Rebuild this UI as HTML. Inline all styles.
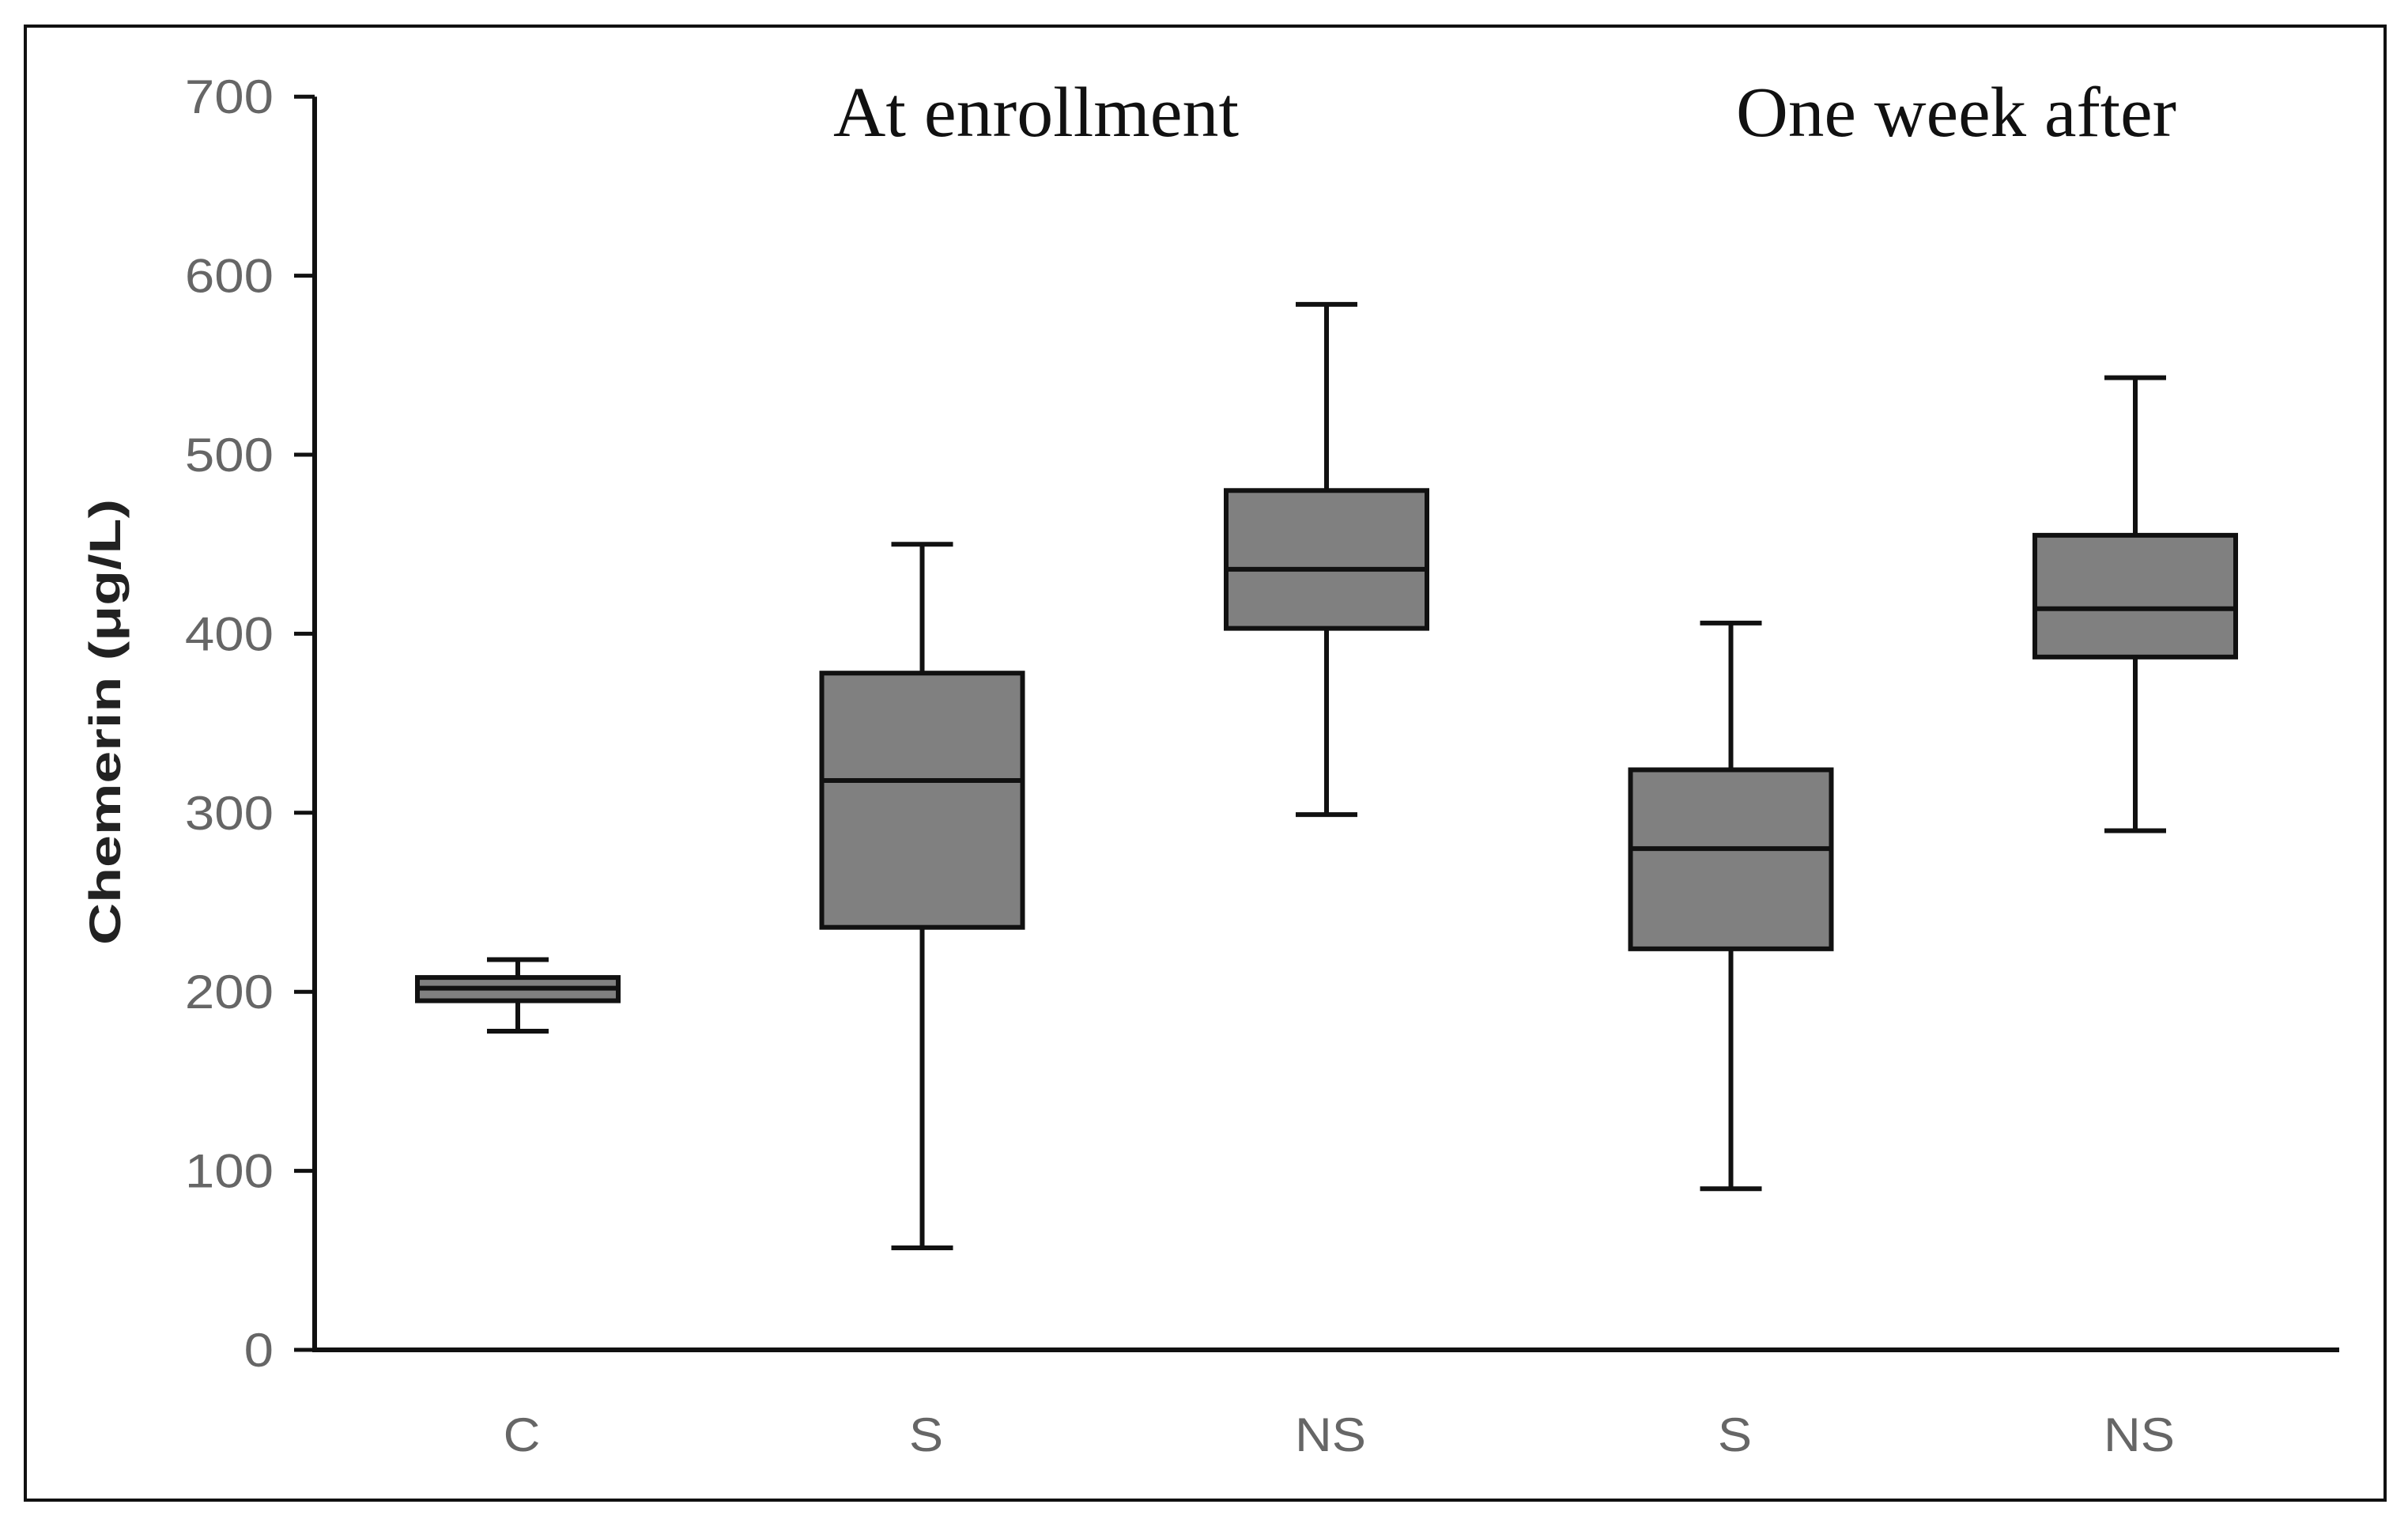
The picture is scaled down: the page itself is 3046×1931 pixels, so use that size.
<!DOCTYPE html>
<html><head><meta charset="utf-8"><style>
html,body{margin:0;padding:0;background:#fff;}
svg{display:block;}
</style></head><body>
<svg id="chart" width="3046" height="1931" viewBox="0 0 3046 1931" xmlns="http://www.w3.org/2000/svg">
<rect x="32" y="33" width="2985" height="1864" fill="none" stroke="#111" stroke-width="4"/>
<g id="axes"></g>
<g id="boxes"></g>
<text x="1054" y="172" textLength="513" lengthAdjust="spacingAndGlyphs" font-family="Liberation Serif, serif" font-size="90" fill="#111">At enrollment</text>
<text x="2196" y="172" textLength="557" lengthAdjust="spacingAndGlyphs" font-family="Liberation Serif, serif" font-size="90" fill="#111">One week after</text>
<text transform="translate(152,913) rotate(-90)" text-anchor="middle" textLength="564" lengthAdjust="spacingAndGlyphs" font-family="Liberation Sans, sans-serif" font-weight="bold" font-size="56" fill="#222">Chemerin (μg/L)</text>
</svg>
<script>
const categories = ["C","S","NS","S","NS"];
const whiskerHigh = [218,450,584,406,543];
const q3 = [208,378,480,324,455];
const median = [202,318,436,280,414];
const q1 = [195,236,403,224,387];
const whiskerLow = [178,57,299,90,290];
const yTicks = [0,100,200,300,400,500,600,700];

const NS = "http://www.w3.org/2000/svg";
const y0 = 1707, pxPer = 226.4/100;
function yScale(v){ return y0 - v*pxPer; }
function xScale(i){ return 655 + i*511.5; }
function mk(tag, attrs, parent){ const e=document.createElementNS(NS,tag); for(const k in attrs) e.setAttribute(k,attrs[k]); parent.appendChild(e); return e; }
const axes=document.getElementById('axes'), boxes=document.getElementById('boxes');

let yAxis = mk('line',{x1:398,y1:yScale(700),x2:398,y2:y0+3,stroke:'#111','stroke-width':6},axes);


let xAxis = mk('line',{x1:395,y1:y0,x2:2959,y2:y0,stroke:'#111','stroke-width':6},axes);



yTicks.forEach(t=>{
  const tk = mk('line',{x1:372,y1:yScale(t),x2:398,y2:yScale(t),stroke:'#111','stroke-width':5},axes);
  
  
  const lb = mk('text',{transform:'translate(346,'+(yScale(t)+21)+') scale(1.12,1)','text-anchor':'end','font-family':'Liberation Sans, sans-serif','font-size':60,fill:'#666'},axes);
  lb.textContent=t;
  
  
});

const bw=254, cw=78;
categories.forEach((c,i)=>{
  const cx=xScale(i);
  const g=mk('g',{},boxes);
  
  
  mk('line',{x1:cx,y1:yScale(whiskerHigh[i]),x2:cx,y2:yScale(q3[i]),stroke:'#111','stroke-width':6},g);
  mk('line',{x1:cx,y1:yScale(q1[i]),x2:cx,y2:yScale(whiskerLow[i]),stroke:'#111','stroke-width':6},g);
  mk('line',{x1:cx-cw/2,y1:yScale(whiskerHigh[i]),x2:cx+cw/2,y2:yScale(whiskerHigh[i]),stroke:'#111','stroke-width':6},g);
  mk('line',{x1:cx-cw/2,y1:yScale(whiskerLow[i]),x2:cx+cw/2,y2:yScale(whiskerLow[i]),stroke:'#111','stroke-width':6},g);
  mk('rect',{x:cx-bw/2,y:yScale(q3[i]),width:bw,height:yScale(q1[i])-yScale(q3[i]),fill:'#808080',stroke:'#111','stroke-width':6},g);
  mk('line',{x1:cx-bw/2,y1:yScale(median[i]),x2:cx+bw/2,y2:yScale(median[i]),stroke:'#111','stroke-width':6},g);
  const lb=mk('text',{transform:'translate('+(cx+5)+',1835) scale(1.08,1)','text-anchor':'middle','font-family':'Liberation Sans, sans-serif','font-size':60,fill:'#666'},axes);
  lb.textContent=c;
  
  
});
</script>
</body></html>
